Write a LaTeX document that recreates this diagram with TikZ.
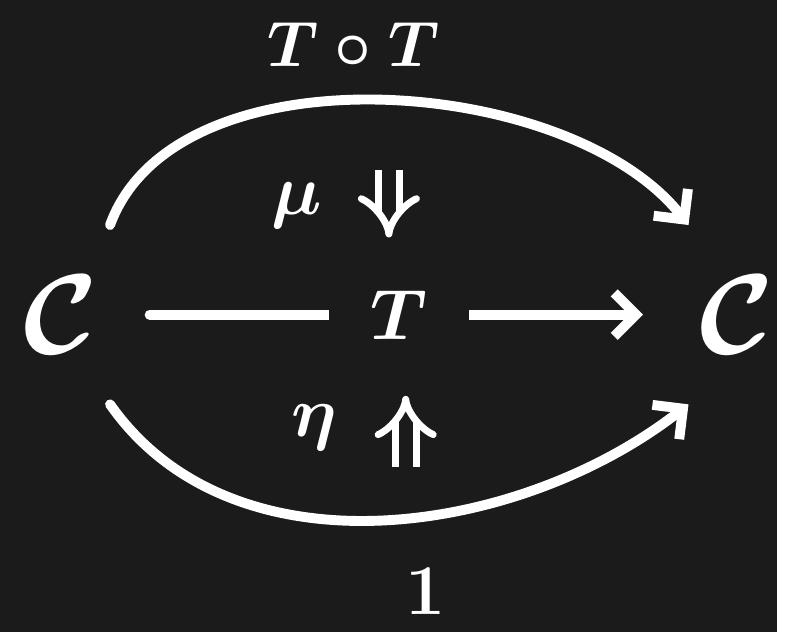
\documentclass[tikz,border=0pt]{standalone}
\usepackage{tikz}
\usetikzlibrary{arrows.meta,positioning,calc}
\definecolor{boardBlack}{HTML}{1B1B1B}
\definecolor{chalkWhite}{HTML}{FFFFFF}

\begin{document}
\begin{tikzpicture}[
  x=0.5pt,y=-0.5pt,
  chalk/.style={draw=chalkWhite,line width=5pt,line cap=round,line join=round},
  arrow/.style={chalk,-{Straight Barb[length=11pt,width=22pt,line width=5pt]}},
  category/.style={text=chalkWhite,transform shape,scale=2.3,minimum width=21pt,minimum height=39pt,inner sep=0pt,font=\Huge\boldmath},
  chalklabel/.style={text=chalkWhite,transform shape,scale=1.45,inner sep=0pt,font=\Huge\boldmath},
  twocell/.style={draw=chalkWhite,line width=3.5pt,double=boardBlack,double distance=7pt,-{Implies[length=9pt]}}]
  \fill[boardBlack] (0,0) rectangle (785,639);
  \node[category] (lc) at (62,318) {$\mathcal{C}$};
  \node[category] (rc) at (745,318) {$\mathcal{C}$};
  \node[chalklabel,scale=0.9] (tt) at (357,45) {$T\circ T$};
  \node[chalklabel] (one) at (430,598) {$1$};
  \node[chalklabel] (mu) at (300,208) {$\mu$};
  \node[chalklabel] (eta) at (318,432) {$\eta$};
  \coordinate (mutop) at (393,172);
  \coordinate (mubot) at (393,240);
  \coordinate (etabot) at (410,472);
  \coordinate (etatop) at (410,400);
  \draw[arrow] (lc.north east) to[out=70,in=128,looseness=0.85] (rc.north west);
  \draw[arrow] (lc.south east) to[out=-55,in=-142,looseness=0.95] (rc.south west);
  \draw[arrow,shorten <=20pt,shorten >=23pt] (lc.east) -- node[chalklabel,fill=boardBlack,inner xsep=14.5pt,inner ysep=3pt] (tm) {$T$} (rc.west);
  \draw[twocell] (mutop) -- (mubot);
  \draw[twocell] (etabot) -- (etatop);
\end{tikzpicture}
\end{document}
